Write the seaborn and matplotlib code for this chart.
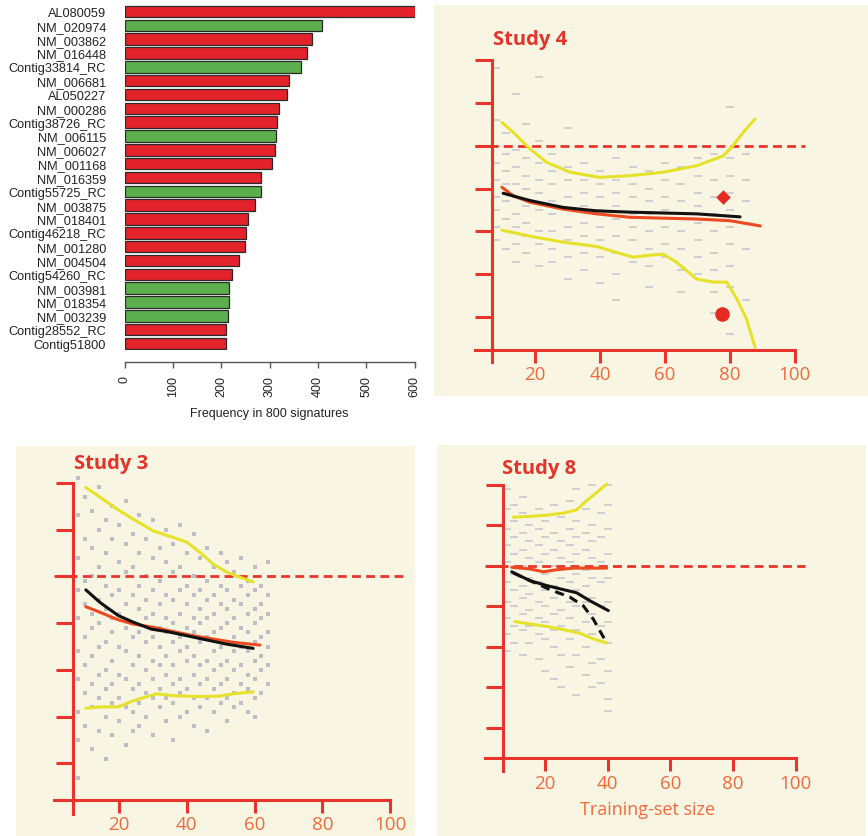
import numpy as np
import pandas as pd
import matplotlib
matplotlib.use("Agg")
import matplotlib.pyplot as plt
import seaborn as sns
from matplotlib.patches import Rectangle

# ---------------- data: bar chart ----------------
genes = ["AL080059", "NM_020974", "NM_003862", "NM_016448", "Contig33814_RC",
         "NM_006681", "AL050227", "NM_000286", "Contig38726_RC", "NM_006115",
         "NM_006027", "NM_001168", "NM_016359", "Contig55725_RC", "NM_003875",
         "NM_018401", "Contig46218_RC", "NM_001280", "NM_004504", "Contig54260_RC",
         "NM_003981", "NM_018354", "NM_003239", "Contig28552_RC", "Contig51800"]
freq = [600, 409, 388, 377, 364, 340, 335, 320, 316, 313, 311, 305, 282, 282,
        270, 256, 251, 249, 237, 222, 216, 215, 214, 210, 210]
group = ["red", "green", "red", "red", "green", "red", "red", "red", "red", "green",
         "red", "red", "red", "green", "red", "red", "red", "red", "red", "red",
         "green", "green", "green", "red", "red"]
bar_ticks = [0, 100, 200, 300, 400, 500, 600]

# ---------------- data: Study 4 ----------------
s4_up_x = [9.7, 13.2, 18.4, 23.5, 30.7, 39.9, 49.2, 59.4, 69.7, 77.9, 80.5, 84.1, 87.7]
s4_up_y = [0.54, 0.31, -0.08, -0.39, -0.62, -0.74, -0.70, -0.62, -0.47, -0.24, -0.04, 0.31, 0.62]
s4_lo_x = [9.7, 18.4, 28.6, 38.9, 45.1, 50.2, 54.3, 59.4, 63.6, 69.7, 74.9, 79.0, 82.1, 85.1, 87.7]
s4_lo_y = [-1.97, -2.11, -2.25, -2.35, -2.49, -2.60, -2.56, -2.53, -2.72, -3.11, -3.18, -3.18, -3.57, -4.04, -4.70]
s4_blk_x = [10.1, 18.4, 28.6, 38.9, 49.2, 59.4, 69.7, 83.1]
s4_blk_y = [-1.11, -1.28, -1.44, -1.52, -1.55, -1.57, -1.59, -1.66]
s4_red_x = [9.7, 13.2, 18.4, 28.6, 38.9, 49.2, 59.4, 69.7, 80.0, 89.3]
s4_red_y = [-0.97, -1.17, -1.32, -1.48, -1.59, -1.67, -1.69, -1.71, -1.75, -1.87]
s4_diamond = (77.7, -1.20)
s4_dot = (77.4, -3.92)
s4_cols = [8, 11, 14, 17, 21, 25, 30, 35, 40, 45, 50, 55, 60, 65, 70, 75, 80, 85]
s4_vals = [
    [1.8, 0.6, 0.0, -0.4, -0.8, -1.2, -1.5, -1.9, -2.2],
    [0.3, -0.2, -0.6, -0.9, -1.3, -1.7, -2.0, -2.4],
    [1.2, -0.1, -0.5, -0.9, -1.2, -1.6, -1.9, -2.3, -2.7],
    [0.5, -0.3, -0.7, -1.0, -1.4, -1.8, -2.1, -2.5],
    [1.6, 0.1, -0.4, -0.8, -1.1, -1.5, -2.0, -2.3, -2.8],
    [-0.2, -0.6, -0.9, -1.3, -1.6, -2.0, -2.4, -2.7],
    [0.4, -0.5, -0.8, -1.2, -1.5, -1.9, -2.2, -2.6, -3.1],
    [-0.4, -0.8, -1.1, -1.4, -1.8, -2.1, -2.5, -2.9],
    [-0.6, -0.9, -1.2, -1.5, -1.9, -2.2, -2.6, -3.2],
    [-0.3, -0.8, -1.1, -1.4, -1.7, -2.1, -2.5, -3.0, -3.6],
    [-0.5, -0.9, -1.2, -1.6, -1.9, -2.2, -2.7],
    [-0.6, -1.0, -1.3, -1.6, -2.0, -2.4, -2.8, -3.3],
    [-0.4, -0.8, -1.2, -1.5, -1.9, -2.3, -2.6],
    [-0.5, -0.9, -1.3, -1.7, -2.0, -2.4, -2.9, -3.4],
    [-0.3, -0.7, -1.1, -1.4, -1.8, -2.2, -2.6, -3.0],
    [-0.2, -0.8, -1.2, -1.6, -2.0, -2.5, -2.9, -3.4, -3.9],
    [0.9, -0.3, -0.7, -1.1, -1.5, -1.9, -2.3, -2.8, -3.3, -4.4],
    [-0.2, -0.8, -1.3, -1.8, -2.4, -3.6],
]

# ---------------- data: Study 3 ----------------
s3_up_x = [10.2, 14.4, 19.3, 24.2, 30.1, 36.0, 40.0, 43.9, 47.8, 51.8, 55.7, 59.6]
s3_up_y = [1.90, 1.69, 1.44, 1.22, 0.97, 0.83, 0.73, 0.51, 0.26, 0.09, -0.02, -0.12]
s3_lo_x = [10.2, 14.4, 19.8, 24.2, 31.1, 36.0, 43.9, 49.8, 53.7, 59.6]
s3_lo_y = [-2.82, -2.79, -2.79, -2.66, -2.51, -2.55, -2.57, -2.56, -2.51, -2.47]
s3_blk_x = [10.2, 14.4, 19.8, 24.2, 29.6, 34.1, 40.0, 45.9, 51.8, 59.6]
s3_blk_y = [-0.29, -0.56, -0.84, -0.98, -1.13, -1.18, -1.27, -1.36, -1.45, -1.54]
s3_red_x = [10.2, 14.4, 19.8, 24.2, 30.1, 36.0, 41.9, 47.8, 53.7, 61.6]
s3_red_y = [-0.65, -0.77, -0.93, -1.02, -1.09, -1.18, -1.27, -1.34, -1.41, -1.47]
s3_cols = [8, 10, 12, 14, 16, 18, 20, 22, 24, 26, 28, 30, 32, 34, 36, 38, 40, 42,
           44, 46, 48, 50, 52, 54, 56, 58, 60, 62, 64]
s3_vals = [
    [2.1, 1.3, 0.4, -0.3, -0.9, -1.6, -2.2, -2.9, -3.5, -4.3],
    [1.7, 0.8, -0.1, -0.6, -1.3, -1.9, -2.5, -3.2],
    [1.4, 0.6, 0.0, -0.8, -1.1, -1.7, -2.3, -2.8, -3.7],
    [1.9, 1.0, 0.2, -0.5, -1.0, -1.5, -2.1, -2.6, -3.3],
    [1.2, 0.5, -0.2, -0.7, -1.4, -2.0, -2.4, -3.0, -3.9],
    [1.5, 0.8, -0.4, -0.9, -1.2, -1.8, -2.3, -2.7, -3.4],
    [1.1, 0.3, -0.3, -0.8, -1.5, -2.1, -2.6, -3.1],
    [1.6, 0.7, 0.1, -0.6, -1.1, -1.6, -2.2, -2.8, -3.6],
    [0.9, 0.2, -0.4, -1.0, -1.3, -1.9, -2.4, -2.9, -3.3],
    [1.3, 0.5, -0.2, -0.7, -1.2, -1.7, -2.3, -2.7, -3.2],
    [0.8, 0.0, -0.5, -0.9, -1.4, -2.0, -2.5, -3.0],
    [1.2, 0.4, -0.3, -0.8, -1.3, -1.8, -2.2, -2.6, -3.4],
    [0.6, -0.1, -0.6, -1.1, -1.5, -1.9, -2.4, -2.8],
    [1.0, 0.3, -0.4, -0.9, -1.2, -1.7, -2.1, -2.6, -3.1],
    [0.7, 0.1, -0.5, -1.0, -1.4, -1.9, -2.3, -2.7, -3.5],
    [1.1, 0.2, -0.3, -0.8, -1.3, -1.6, -2.2, -2.5, -3.0],
    [0.5, -0.2, -0.6, -1.1, -1.5, -1.8, -2.4, -2.9],
    [0.9, 0.0, -0.4, -0.9, -1.2, -1.7, -2.1, -2.6, -3.2],
    [0.4, -0.3, -0.7, -1.0, -1.4, -1.9, -2.3, -2.8],
    [0.6, -0.1, -0.5, -0.9, -1.3, -1.8, -2.2, -2.6, -3.3],
    [0.2, -0.4, -0.8, -1.2, -1.6, -2.0, -2.4, -2.9],
    [0.5, -0.2, -0.6, -1.1, -1.5, -1.9, -2.3, -2.7],
    [0.3, -0.3, -0.7, -1.0, -1.4, -1.8, -2.2, -2.6, -3.1],
    [0.1, -0.5, -0.9, -1.3, -1.6, -2.0, -2.5, -2.8],
    [0.4, -0.2, -0.6, -1.1, -1.5, -1.9, -2.3, -2.7],
    [-0.1, -0.4, -0.8, -1.2, -1.6, -2.1, -2.4, -2.9],
    [0.2, -0.3, -0.7, -1.0, -1.4, -1.8, -2.2, -2.6, -3.0],
    [-0.2, -0.6, -0.9, -1.3, -1.7, -2.0, -2.5],
    [0.3, -0.4, -0.8, -1.2, -1.5, -1.9, -2.3],
]

# ---------------- data: Study 8 ----------------
s8_up_x = [9.9, 15.2, 20.5, 25.8, 30.1, 33.3, 36.5, 39.7]
s8_up_y = [1.20, 1.22, 1.25, 1.30, 1.38, 1.61, 1.81, 2.02]
s8_lo_x = [10.4, 15.2, 20.5, 25.8, 31.2, 35.4, 39.7]
s8_lo_y = [-1.38, -1.44, -1.50, -1.58, -1.67, -1.81, -1.91]
s8_red_x = [9.4, 15.2, 19.5, 23.7, 29.0, 39.7]
s8_red_y = [-0.04, -0.08, -0.15, -0.10, -0.06, -0.06]
s8_blk_x = [9.4, 12.0, 15.2, 20.5, 25.8, 30.1, 34.4, 40.2]
s8_blk_y = [-0.15, -0.25, -0.37, -0.49, -0.59, -0.67, -0.87, -1.11]
s8_bdash_x = [9.9, 15.2, 21.6, 28.0, 32.2, 35.4, 37.5, 39.7]
s8_bdash_y = [-0.18, -0.37, -0.59, -0.78, -0.99, -1.32, -1.61, -1.91]
s8_cols = [8, 10, 13, 15, 18, 20, 23, 25, 28, 30, 33, 35, 38, 40]
s8_vals = [
    [1.9, 1.4, 0.9, 0.5, 0.1, -0.4, -0.9, -1.3, -1.7, -2.1],
    [1.5, 1.1, 0.7, 0.3, -0.2, -0.6, -1.0, -1.5, -1.9],
    [1.7, 1.3, 0.8, 0.4, 0.0, -0.5, -0.8, -1.2, -1.6, -2.2],
    [1.0, 0.6, 0.2, -0.3, -0.7, -1.1, -1.5, -1.9],
    [1.4, 0.9, 0.5, 0.1, -0.4, -0.9, -1.3, -1.7, -2.3],
    [1.1, 0.7, 0.3, -0.2, -0.6, -1.0, -1.4, -1.8, -2.6],
    [1.5, 0.8, 0.4, 0.0, -0.5, -0.8, -1.2, -1.6, -2.0, -2.8],
    [1.2, 0.6, 0.2, -0.3, -0.7, -1.1, -1.5, -2.2, -3.0],
    [1.6, 0.9, 0.5, 0.1, -0.4, -0.9, -1.3, -1.8, -2.5],
    [1.9, 1.1, 0.7, 0.3, -0.2, -0.6, -1.0, -1.6, -2.2, -3.2],
    [1.4, 0.8, 0.4, -0.1, -0.5, -0.9, -1.4, -2.0, -2.7],
    [2.0, 1.0, 0.6, 0.2, -0.3, -0.8, -1.2, -1.7, -2.4, -3.0],
    [1.3, 0.7, 0.1, -0.4, -1.0, -1.5, -2.3, -2.9],
    [2.0, 1.5, 0.9, 0.3, -0.3, -0.9, -1.4, -1.9, -2.6, -3.3, -3.6],
]

panel_xticks = [20, 40, 60, 80, 100]
panel_yticks = [-4, -3, -2, -1, 0, 1, 2]

# ---------------- style ----------------
W, H = 868, 837
CREAM = "#F8F6E2"
AX_RED = "#E8342B"
LBL_ORANGE = "#F06A3C"
YELLOW = "#E6E22C"
LINE_RED = "#EE4A22"
GREY = "#C8C8CE"

sns.set_theme(style="white")
plt.rcParams["font.family"] = ["Liberation Sans", "DejaVu Sans"]

fig = plt.figure(figsize=(W / 100, H / 100), dpi=100)
fig.patch.set_facecolor("white")


def rect(px0, py0, px1, py1):
    return [px0 / W, 1 - py1 / H, (px1 - px0) / W, (py1 - py0) / H]


# cream backgrounds of the three scanned panels
for (a, b, c, d) in [(434, 6, 868, 397), (16, 447, 415, 837), (437, 446, 866, 837)]:
    fig.add_artist(Rectangle((a / W, 1 - d / H), (c - a) / W, (d - b) / H,
                             transform=fig.transFigure, facecolor=CREAM,
                             edgecolor="none", zorder=-5))

# ---------------- bar chart ----------------
ax0 = fig.add_axes(rect(124.7, 5.6, 414.5, 351.4))
df = pd.DataFrame({"gene": genes, "freq": freq, "group": group})
sns.barplot(data=df, x="freq", y="gene", hue="group", order=genes,
            palette={"red": "#E3222B", "green": "#5DAE4F"}, saturation=1, dodge=False,
            width=0.84, edgecolor="#2a2a2a", linewidth=0.9, legend=False, ax=ax0)
ax0.set_facecolor("none")
ax0.set_xlim(0, 600)
ax0.set_ylim(len(genes) - 0.5, -0.5)
for s in ["top", "right", "left"]:
    ax0.spines[s].set_visible(False)
ax0.spines["bottom"].set_position(("outward", 8.5))
ax0.spines["bottom"].set_bounds(0, 600)
ax0.spines["bottom"].set_color("#555555")
ax0.spines["bottom"].set_linewidth(1.0)
ax0.set_xticks(bar_ticks)
ax0.set_xticklabels([str(t) for t in bar_ticks], rotation=90)
ax0.tick_params(axis="x", direction="out", length=4, width=1, color="#555555",
                labelsize=9, labelcolor="#222222", pad=5, bottom=True)
ax0.tick_params(axis="y", length=0, labelsize=9.2, labelcolor="#222222", pad=13.5)
ax0.set_ylabel("")
ax0.set_xlabel("Frequency in 800 signatures", fontsize=9, color="#222222", labelpad=8)


# ---------------- scanned-style panels ----------------
def make_panel(x0px, ppx, y0py, ppy, yaxis_x, xaxis_y, xleft, ybottom):
    xlim = (0, 108)
    ylim = (-5.3, 2.6)
    left = x0px
    right = x0px + xlim[1] * ppx
    top = y0py - ylim[1] * ppy
    bottom = y0py - ylim[0] * ppy
    ax = fig.add_axes(rect(left, top, right, bottom))
    ax.set_facecolor("none")
    ax.set_xlim(*xlim)
    ax.set_ylim(*ylim)
    for s in ["top", "right"]:
        ax.spines[s].set_visible(False)
    ax.spines["left"].set_position(("data", yaxis_x))
    ax.spines["left"].set_bounds(ybottom, 2.0)
    ax.spines["bottom"].set_position(("data", xaxis_y))
    ax.spines["bottom"].set_bounds(xleft, 100)
    for s in ["left", "bottom"]:
        ax.spines[s].set_color(AX_RED)
        ax.spines[s].set_linewidth(2.2)
        ax.spines[s].set_zorder(5)
    ax.set_yticks(panel_yticks)
    ax.set_yticklabels([])
    ax.set_xticks(panel_xticks)
    ax.set_xticklabels([str(t) for t in panel_xticks])
    ax.tick_params(axis="y", direction="out", length=12.5, width=2.2, color=AX_RED, left=True)
    ax.tick_params(axis="x", direction="out", length=9, width=2.2, color=AX_RED, bottom=True,
                   labelsize=13.5, labelcolor=LBL_ORANGE, pad=2)
    for lab in ax.get_xticklabels():
        lab.set_family(["Open Sans", "DejaVu Sans"])
    ax.set_xlabel("")
    ax.set_ylabel("")
    return ax


def flat(cols, vals):
    xs, ys = [], []
    for c, v in zip(cols, vals):
        xs.extend([c] * len(v))
        ys.extend(v)
    return xs, ys


def ref_line(ax, x_start, x_end):
    ax.hlines(0, x_start, x_end, colors=AX_RED, linewidth=2.0,
              linestyles=(0, (3.2, 1.9)), zorder=3)


def draw_line(ax, xs, ys, color, lw=2.2, ls="-"):
    sns.lineplot(x=xs, y=ys, ax=ax, color=color, linewidth=lw, linestyle=ls,
                 sort=False, estimator=None, zorder=4)


# Study 4 (top right)
ax4 = make_panel(470.4, 3.245, 146.6, 42.93, 6.66, -4.75, 1.4, -5.04)
sx, sy = flat(s4_cols, s4_vals)
sns.scatterplot(x=sx, y=sy, ax=ax4, marker="_", s=40, linewidth=1.2, color=GREY, zorder=2)
ref_line(ax4, 1.4, 103)
draw_line(ax4, s4_up_x, s4_up_y, YELLOW)
draw_line(ax4, s4_lo_x, s4_lo_y, YELLOW)
draw_line(ax4, s4_red_x, s4_red_y, LINE_RED)
draw_line(ax4, s4_blk_x, s4_blk_y, "#111111")
sns.scatterplot(x=[s4_diamond[0]], y=[s4_diamond[1]], ax=ax4, marker="D", s=55,
                color="#E52A22", linewidth=0, zorder=6)
sns.scatterplot(x=[s4_dot[0]], y=[s4_dot[1]], ax=ax4, marker="o", s=110,
                color="#E52A22", linewidth=0, zorder=6)
fig.text(493 / W, 1 - 45 / H, "Study 4", ha="left", va="baseline", fontsize=14.5,
         fontweight="bold", color="#E3342A", family=["Open Sans", "DejaVu Sans"])

# Study 3 (bottom left)
ax3 = make_panel(51.3, 3.3875, 577.3, 46.8, 6.3, -4.78, 0.9, -5.07)
sx, sy = flat(s3_cols, s3_vals)
sns.scatterplot(x=sx, y=sy, ax=ax3, marker="s", s=8, linewidth=0, color="#BEBEC6", zorder=2)
ref_line(ax3, 0.9, 104)
draw_line(ax3, s3_up_x, s3_up_y, YELLOW)
draw_line(ax3, s3_lo_x, s3_lo_y, YELLOW)
draw_line(ax3, s3_red_x, s3_red_y, LINE_RED)
draw_line(ax3, s3_blk_x, s3_blk_y, "#111111")
fig.text(74 / W, 1 - 469 / H, "Study 3", ha="left", va="baseline", fontsize=14.5,
         fontweight="bold", color="#E3342A", family=["Open Sans", "DejaVu Sans"])

# Study 8 (bottom right)
ax8 = make_panel(482.3, 3.135, 566.7, 40.45, 6.5, -4.76, 0.9, -5.07)
sx, sy = flat(s8_cols, s8_vals)
sns.scatterplot(x=sx, y=sy, ax=ax8, marker="_", s=40, linewidth=1.2, color=GREY, zorder=2)
ref_line(ax8, 0.9, 103)
draw_line(ax8, s8_up_x, s8_up_y, YELLOW)
draw_line(ax8, s8_lo_x, s8_lo_y, YELLOW)
draw_line(ax8, s8_red_x, s8_red_y, LINE_RED)
draw_line(ax8, s8_blk_x, s8_blk_y, "#111111")
draw_line(ax8, s8_bdash_x, s8_bdash_y, "#111111", ls=(0, (3, 2)))
fig.text(502 / W, 1 - 474 / H, "Study 8", ha="left", va="baseline", fontsize=14.5,
         fontweight="bold", color="#E3342A", family=["Open Sans", "DejaVu Sans"])
fig.text(648 / W, 1 - 810 / H, "Training-set size", ha="center", va="center",
         fontsize=13, color=LBL_ORANGE, family=["Open Sans", "DejaVu Sans"])

fig.savefig("out.png", dpi=100)
